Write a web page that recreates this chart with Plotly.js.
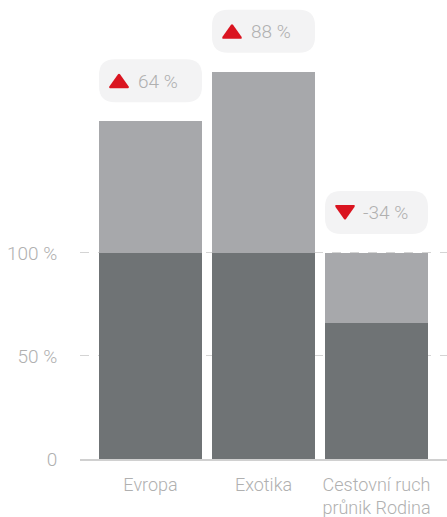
<!DOCTYPE html>
<html>
<head>
<meta charset="utf-8">
<script src="https://cdn.plot.ly/plotly-3.0.1.min.js"></script>
<style>html,body{margin:0;padding:0;background:#fff;}#chart{width:447px;height:517px;}</style>
</head>
<body>
<div id="chart"></div>
<script>
// Data
var categories = ["Evropa", "Exotika", "Cestovní ruch<br>průnik Rodina"];
var reference = [100, 100, 100];
var current = [164, 188, 66];
var yTickVals = [0, 50, 100];
var yTickText = ["0", "50 %", "100 %"];

var darkVals = current.map(function (c, i) { return Math.min(c, reference[i]); });
var lightVals = current.map(function (c, i) { return Math.abs(c - reference[i]); });
var totals = current.map(function (c, i) { return Math.max(c, reference[i]); });
var changes = current.map(function (c, i) { return c - reference[i]; });

var DARK = "rgb(111,115,117)";
var LIGHT = "rgb(167,168,171)";
var RED = "rgb(218,20,32)";
var TEXT = "rgb(176,176,176)";
var FONT = "Roboto, 'Open Sans', sans-serif";

var traces = [
  { type: "bar", x: categories, y: darkVals, marker: { color: DARK }, hoverinfo: "skip" },
  { type: "bar", x: categories, y: lightVals, marker: { color: LIGHT }, hoverinfo: "skip" }
];

function roundRect(x0, x1, y0, y1, r) {
  return "M" + (x0 + r) + "," + y0 +
    " L" + (x1 - r) + "," + y0 +
    " Q" + x1 + "," + y0 + " " + x1 + "," + (y0 + r) +
    " L" + x1 + "," + (y1 - r) +
    " Q" + x1 + "," + y1 + " " + (x1 - r) + "," + y1 +
    " L" + (x0 + r) + "," + y1 +
    " Q" + x0 + "," + y1 + " " + x0 + "," + (y1 - r) +
    " L" + x0 + "," + (y0 + r) +
    " Q" + x0 + "," + y0 + " " + (x0 + r) + "," + y0 + " Z";
}

var shapes = [];
var annotations = [];
categories.forEach(function (cat, i) {
  // pill background
  shapes.push({
    type: "path", xref: "x", yref: "y",
    xsizemode: "pixel", ysizemode: "pixel",
    xanchor: i, yanchor: totals[i],
    path: roundRect(-51.5, 51.5, 19, 62, 16),
    fillcolor: "rgb(243,243,244)", line: { width: 0 }, layer: "above"
  });
  // triangle
  var up = changes[i] >= 0;
  var tx0 = -42, tx1 = -21, tyb = 33, tyt = 48;
  var tri = up
    ? "M" + (tx0 + 1.5) + "," + (tyb) + " L" + (tx1 - 1.5) + "," + tyb +
      " Q" + tx1 + "," + tyb + " " + (tx1 - 1) + "," + (tyb + 2) +
      " L" + ((tx0 + tx1) / 2 + 1) + "," + (tyt - 1) +
      " Q" + ((tx0 + tx1) / 2) + "," + tyt + " " + ((tx0 + tx1) / 2 - 1) + "," + (tyt - 1) +
      " L" + (tx0 + 1) + "," + (tyb + 2) +
      " Q" + tx0 + "," + tyb + " " + (tx0 + 1.5) + "," + tyb + " Z"
    : "M" + (tx0 + 1.5) + "," + tyt + " L" + (tx1 - 1.5) + "," + tyt +
      " Q" + tx1 + "," + tyt + " " + (tx1 - 1) + "," + (tyt - 2) +
      " L" + ((tx0 + tx1) / 2 + 1) + "," + (tyb + 1) +
      " Q" + ((tx0 + tx1) / 2) + "," + tyb + " " + ((tx0 + tx1) / 2 - 1) + "," + (tyb + 1) +
      " L" + (tx0 + 1) + "," + (tyt - 2) +
      " Q" + tx0 + "," + tyt + " " + (tx0 + 1.5) + "," + tyt + " Z";
  shapes.push({
    type: "path", xref: "x", yref: "y",
    xsizemode: "pixel", ysizemode: "pixel",
    xanchor: i, yanchor: totals[i],
    path: tri, fillcolor: RED, line: { width: 0 }, layer: "above"
  });
  annotations.push({
    x: i, y: totals[i], xref: "x", yref: "y",
    text: changes[i] + " %", showarrow: false,
    xanchor: "left", yanchor: "middle",
    xshift: -15, yshift: 40,
    font: { family: FONT, size: 19, color: TEXT, weight: 300 }
  });
});

var layout = {
  width: 447, height: 517,
  margin: { l: 80, r: 0, t: 0, b: 58 },
  paper_bgcolor: "#fff", plot_bgcolor: "#fff",
  barmode: "stack", bargap: 0.0885,
  showlegend: false,
  font: { family: FONT, size: 18, color: TEXT, weight: 300 },
  xaxis: {
    type: "category", range: [-0.624, 2.624],
    showgrid: false, zeroline: false,
    showline: true, linecolor: "rgb(208,208,208)", linewidth: 2,
    ticks: "outside", ticklen: 8, tickcolor: "rgba(0,0,0,0)",
    tickfont: { family: FONT, size: 18, color: TEXT, weight: 300 },
    fixedrange: true
  },
  yaxis: {
    range: [0, 222.8],
    tickvals: yTickVals, ticktext: yTickText,
    showgrid: true, gridcolor: "rgb(212,212,212)", griddash: "dash", gridwidth: 1,
    zeroline: false, showline: false,
    ticks: "outside", ticklen: 18, tickcolor: "rgba(0,0,0,0)",
    tickfont: { family: FONT, size: 19, color: TEXT, weight: 300 },
    fixedrange: true
  },
  shapes: shapes,
  annotations: annotations
};

Plotly.newPlot("chart", traces, layout, { displayModeBar: false, staticPlot: true });
</script>
</body>
</html>
